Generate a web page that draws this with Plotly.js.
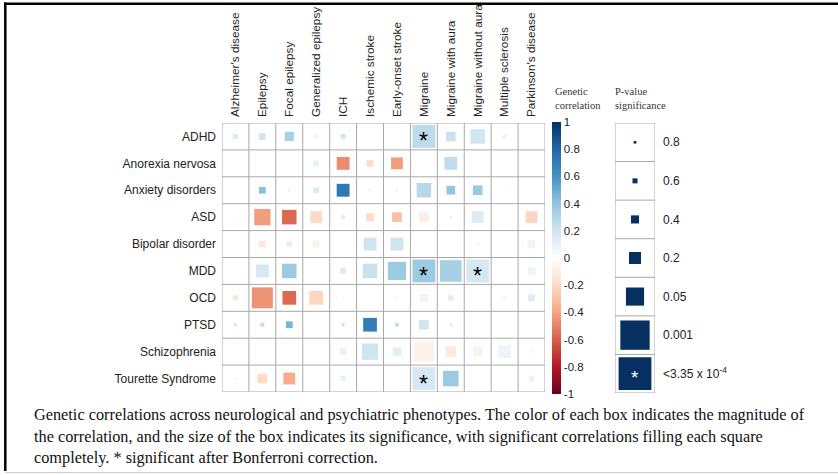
<!DOCTYPE html>
<html>
<head>
<meta charset="utf-8">
<script src="https://cdn.plot.ly/plotly-3.0.1.min.js"></script>
<style>
  html, body { margin: 0; padding: 0; background: #ffffff; }
  #chart { width: 838px; height: 475px; }
</style>
</head>
<body>
<div id="chart"></div>
<script>
// ---------------- DATA ----------------
const rowNames = ['ADHD', 'Anorexia nervosa', 'Anxiety disorders', 'ASD', 'Bipolar disorder',
                  'MDD', 'OCD', 'PTSD', 'Schizophrenia', 'Tourette Syndrome'];
const colNames = ["Alzheimer's disease", 'Epilepsy', 'Focal epilepsy', 'Generalized epilepsy', 'ICH',
                  'Ischemic stroke', 'Early-onset stroke', 'Migraine', 'Migraine with aura',
                  'Migraine without aura', 'Multiple sclerosis', "Parkinson's disease"];

// genetic correlation (colour), one array per psychiatric phenotype
const rgADHD     = [0.15, 0.20, 0.33, 0.08, 0.20, 0.02, 0.02, 0.26, 0.22, 0.20, -0.10, 0.00];
const rgAnorexia = [0.00, 0.05, 0.00, 0.10, -0.47, -0.20, -0.42, 0.00, 0.25, 0.05, 0.00, 0.00];
const rgAnxiety  = [0.05, 0.42, 0.10, 0.15, 0.72, 0.08, 0.08, 0.28, 0.40, 0.37, 0.05, 0.05];
const rgASD      = [0.05, -0.42, -0.57, -0.20, 0.15, -0.20, -0.30, -0.10, -0.10, 0.15, 0.00, -0.22];
const rgBipolar  = [-0.05, -0.12, -0.15, -0.08, 0.00, 0.20, 0.20, 0.03, 0.00, -0.08, 0.00, 0.08];
const rgMDD      = [0.05, 0.18, 0.37, 0.05, 0.15, 0.22, 0.37, 0.37, 0.33, 0.18, 0.05, 0.08];
const rgOCD      = [-0.15, -0.45, -0.57, -0.22, 0.05, 0.00, 0.05, 0.08, 0.12, 0.00, 0.05, 0.15];
const rgPTSD     = [-0.20, 0.25, 0.47, 0.05, -0.25, 0.70, 0.25, 0.20, 0.15, 0.05, 0.05, 0.00];
const rgSCZ      = [0.05, 0.05, 0.00, 0.05, 0.10, 0.20, 0.12, -0.08, -0.12, -0.08, 0.08, 0.05];
const rgTourette = [0.05, -0.20, -0.37, 0.00, 0.10, 0.05, 0.05, 0.18, 0.37, 0.05, 0.00, 0.10];

// p-values (box size)
const pADHD     = [0.45, 0.30, 0.15, 0.55, 0.45, 0.90, 0.90, 1e-4, 0.13, 0.02, 0.55, 0.95];
const pAnorexia = [0.95, 0.90, 0.95, 0.38, 0.045, 0.30, 0.065, 0.95, 0.045, 0.90, 0.95, 0.95];
const pAnxiety  = [0.80, 0.30, 0.67, 0.38, 0.045, 0.67, 0.67, 0.02, 0.18, 0.13, 0.80, 0.80];
const pASD      = [0.80, 0.008, 0.02, 0.065, 0.55, 0.22, 0.13, 0.13, 0.67, 0.065, 0.95, 0.065];
const pBipolar  = [0.90, 0.30, 0.45, 0.30, 0.95, 0.045, 0.045, 0.90, 0.95, 0.67, 0.95, 0.22];
const pMDD      = [0.90, 0.045, 0.02, 0.90, 0.38, 0.02, 0.003, 1e-5, 0.0006, 1e-4, 0.90, 0.22];
const pOCD      = [0.45, 0.0008, 0.03, 0.03, 0.67, 0.95, 0.67, 0.22, 0.38, 0.95, 0.45, 0.30];
const pPTSD     = [0.67, 0.55, 0.30, 0.80, 0.67, 0.03, 0.55, 0.13, 0.67, 0.90, 0.90, 0.95];
const pSCZ      = [0.90, 0.90, 0.95, 0.90, 0.30, 0.008, 0.18, 0.0012, 0.10, 0.13, 0.045, 0.67];
const pTourette = [0.67, 0.13, 0.065, 0.95, 0.45, 0.90, 0.90, 1e-4, 0.012, 0.80, 0.95, 0.45];

const rG   = [rgADHD, rgAnorexia, rgAnxiety, rgASD, rgBipolar, rgMDD, rgOCD, rgPTSD, rgSCZ, rgTourette];
const pVal = [pADHD, pAnorexia, pAnxiety, pASD, pBipolar, pMDD, pOCD, pPTSD, pSCZ, pTourette];

const bonferroni = 3.35e-4;
const legendP = [0.8, 0.6, 0.4, 0.2, 0.05, 0.001, 3.35e-4];
const legendLabels = ['0.8', '0.6', '0.4', '0.2', '0.05', '0.001', '&lt;3.35 x 10<sup>-4</sup>'];
const cbTicks = [1, 0.8, 0.6, 0.4, 0.2, 0, -0.2, -0.4, -0.6, -0.8, -1];

const captionLines = [
  'Genetic correlations across neurological and psychiatric phenotypes. The color of each box indicates the magnitude of',
  'the correlation, and the size of the box indicates its significance, with significant correlations filling each square',
  'completely. * significant after Bonferroni correction.'
];

// ---------------- STYLE / GEOMETRY ----------------
const W = 838, H = 475;
const px = v => v / W;           // pixel -> paper x
const py = v => 1 - v / H;       // pixel -> paper y
const gridL = 222, gridR = 545, gridT = 123, gridB = 392;
const cellPx = (gridR - gridL) / colNames.length;
const legL = 615, legR = 655, legT = 123, legB = 393;
const legCellPx = (legB - legT) / legendP.length;
const NAVY = '#053061';
const GRID = '#a8a8a8';
const FONT = 'Liberation Sans, Arial, sans-serif';
const SERIF = 'Liberation Serif, Times New Roman, serif';

// box fraction of a cell as a function of p (anchored on the legend levels)
const anchorP = [1, 0.8, 0.6, 0.4, 0.2, 0.05, 0.001, 3.35e-4];
const anchorF = [0, 0.07, 0.13, 0.21, 0.31, 0.47, 0.76, 0.85];
function boxFrac(p) {
  if (p >= 1) return 0;
  if (p <= anchorP[anchorP.length - 1]) return anchorF[anchorF.length - 1];
  const lp = Math.log10(p);
  for (let i = 0; i < anchorP.length - 1; i++) {
    const a = Math.log10(anchorP[i]), b = Math.log10(anchorP[i + 1]);
    if (lp <= a && lp >= b) {
      const t = (lp - a) / (b - a);
      return anchorF[i] + t * (anchorF[i + 1] - anchorF[i]);
    }
  }
  return 0;
}

const colorscale = [
  [0.0, '#67001F'], [0.1, '#B2182B'], [0.2, '#D6604D'], [0.3, '#F4A582'], [0.4, '#FDDBC7'],
  [0.5, '#FFFFFF'], [0.6, '#D1E5F0'], [0.7, '#92C5DE'], [0.8, '#4393C3'], [0.9, '#2166AC'], [1.0, '#053061']
];

// ---------------- TRACES ----------------
const xs = [], ys = [], cs = [], ss = [];
const annotations = [];
for (let r = 0; r < rowNames.length; r++) {
  for (let c = 0; c < colNames.length; c++) {
    xs.push(c); ys.push(r);
    cs.push(rG[r][c]);
    ss.push(boxFrac(pVal[r][c]) * cellPx);
    if (pVal[r][c] < bonferroni) {
      annotations.push({
        xref: 'x', yref: 'y', x: c, y: r, text: '*', showarrow: false,
        font: {family: FONT, size: 23, color: '#000000'}, yshift: -5
      });
    }
  }
}

const mainTrace = {
  type: 'scatter', mode: 'markers', x: xs, y: ys, xaxis: 'x', yaxis: 'y',
  hoverinfo: 'skip',
  marker: {
    symbol: 'square', size: ss, color: cs, cmin: -1, cmax: 1, colorscale: colorscale,
    line: {width: 0}, opacity: 1,
    showscale: true,
    colorbar: {
      x: px(552), xanchor: 'left', xpad: 0,
      y: py((gridT + gridB) / 2 + 0.5), yanchor: 'middle', ypad: 0,
      len: (gridB - gridT) + 3, lenmode: 'pixels',
      thickness: 9, thicknessmode: 'pixels',
      outlinewidth: 0,
      tickmode: 'array', tickvals: cbTicks, ticktext: cbTicks.map(v => String(v)),
      ticks: '', ticklabelstandoff: 4,
      tickfont: {family: FONT, size: 11.5, color: '#222222'}
    }
  }
};

const legendTrace = {
  type: 'scatter', mode: 'markers', x: legendP.map(() => 0), y: legendP.map((_, i) => i),
  xaxis: 'x2', yaxis: 'y2', hoverinfo: 'skip', showlegend: false,
  marker: {symbol: 'square', color: NAVY, line: {width: 0}, opacity: 1,
           size: legendP.map(p => boxFrac(p) * legCellPx)}
};

annotations.push({
  xref: 'x2', yref: 'y2', x: 0, y: legendP.length - 1, text: '*', showarrow: false,
  font: {family: FONT, size: 19, color: '#ffffff'}, yshift: -4
});

// ---------------- SHAPES ----------------
const shapes = [];
for (let c = 0; c <= colNames.length; c++) {
  shapes.push({type: 'line', xref: 'x', yref: 'y', x0: c - 0.5, x1: c - 0.5, y0: -0.5, y1: rowNames.length - 0.5,
               line: {color: GRID, width: 1}, layer: 'below'});
}
for (let r = 0; r <= rowNames.length; r++) {
  shapes.push({type: 'line', xref: 'x', yref: 'y', x0: -0.5, x1: colNames.length - 0.5, y0: r - 0.5, y1: r - 0.5,
               line: {color: GRID, width: 1}, layer: 'below'});
}
for (let i = 0; i <= legendP.length; i++) {
  shapes.push({type: 'line', xref: 'x2', yref: 'y2', x0: -0.5, x1: 0.5, y0: i - 0.5, y1: i - 0.5,
               line: {color: GRID, width: 1}, layer: 'below'});
}
[-0.5, 0.5].forEach(v => shapes.push({type: 'line', xref: 'x2', yref: 'y2', x0: v, x1: v, y0: -0.5,
               y1: legendP.length - 0.5, line: {color: GRID, width: 1}, layer: 'below'}));

// outer frame of the figure
shapes.push({type: 'line', xref: 'paper', yref: 'paper', x0: px(4), x1: 1, y0: py(3.8), y1: py(3.8),
             line: {color: '#000000', width: 2.5}});
shapes.push({type: 'line', xref: 'paper', yref: 'paper', x0: px(5.3), x1: px(5.3), y0: py(2.6), y1: py(471),
             line: {color: '#000000', width: 2.5}});
shapes.push({type: 'line', xref: 'paper', yref: 'paper', x0: px(5), x1: 1, y0: py(472.5), y1: py(472.5),
             line: {color: '#cfcfcf', width: 1}});

// ---------------- TEXT ANNOTATIONS ----------------
annotations.push({xref: 'paper', yref: 'paper', x: px(553), y: py(98), xanchor: 'left', yanchor: 'middle',
  align: 'left', showarrow: false, text: 'Genetic<br>correlation',
  font: {family: SERIF, size: 10.5, color: '#333333'}});
annotations.push({xref: 'paper', yref: 'paper', x: px(613), y: py(98), xanchor: 'left', yanchor: 'middle',
  align: 'left', showarrow: false, text: 'P-value<br>significance',
  font: {family: SERIF, size: 10.5, color: '#333333'}});
const capY = [414, 436, 457.5];
captionLines.forEach((t, i) => annotations.push({
  xref: 'paper', yref: 'paper', x: px(32), y: py(capY[i]), xanchor: 'left', yanchor: 'middle',
  align: 'left', showarrow: false, text: t,
  font: {family: SERIF, size: 16.3, color: '#111111'}
}));

// ---------------- LAYOUT ----------------
const layout = {
  width: W, height: H,
  margin: {l: 0, r: 0, t: 0, b: 0, pad: 0},
  paper_bgcolor: '#ffffff', plot_bgcolor: 'rgba(0,0,0,0)',
  showlegend: false,
  xaxis: {
    domain: [px(gridL), px(gridR)], range: [-0.5, colNames.length - 0.5],
    side: 'top', anchor: 'y', tickmode: 'array', tickvals: colNames.map((_, i) => i), ticktext: colNames,
    tickangle: -90, ticks: '', ticklabelstandoff: 5, showgrid: false, zeroline: false, showline: false,
    tickfont: {family: FONT, size: 11.8, color: '#222222'}, fixedrange: true
  },
  yaxis: {
    domain: [py(gridB), py(gridT)], range: [rowNames.length - 0.5, -0.5],
    anchor: 'x', tickmode: 'array', tickvals: rowNames.map((_, i) => i), ticktext: rowNames,
    ticks: '', ticklabelstandoff: 5, showgrid: false, zeroline: false, showline: false,
    tickfont: {family: FONT, size: 12, color: '#222222'}, fixedrange: true
  },
  xaxis2: {
    domain: [px(legL), px(legR)], range: [-0.5, 0.5], anchor: 'y2',
    showticklabels: false, ticks: '', showgrid: false, zeroline: false, showline: false, fixedrange: true
  },
  yaxis2: {
    domain: [py(legB), py(legT)], range: [legendP.length - 0.5, -0.5], anchor: 'x2', side: 'right',
    tickmode: 'array', tickvals: legendP.map((_, i) => i), ticktext: legendLabels,
    ticks: '', ticklabelstandoff: 7, showgrid: false, zeroline: false, showline: false,
    tickfont: {family: FONT, size: 12, color: '#222222'}, fixedrange: true
  },
  shapes: shapes,
  annotations: annotations
};

Plotly.newPlot('chart', [mainTrace, legendTrace], layout, {displayModeBar: false, staticPlot: true});
</script>
</body>
</html>
